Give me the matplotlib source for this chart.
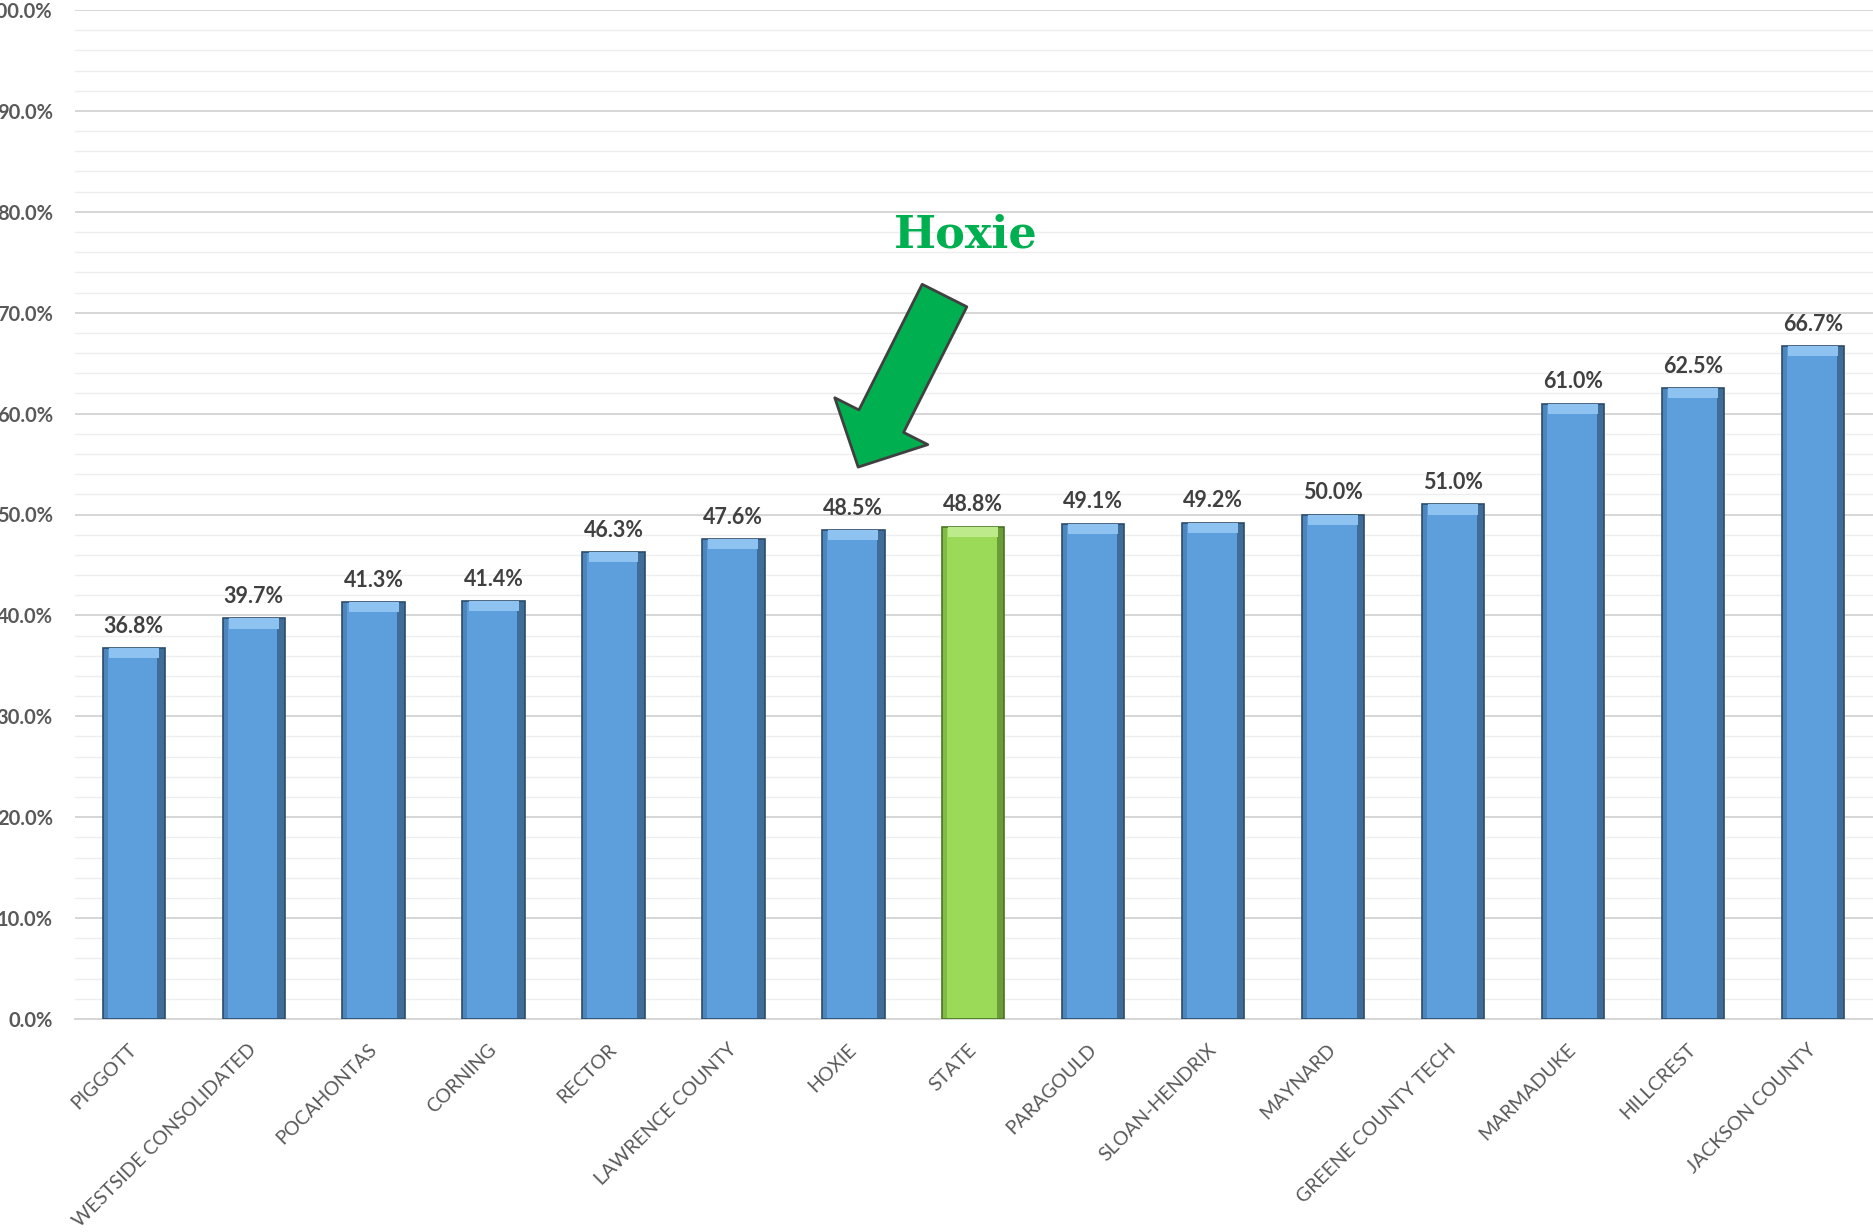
import numpy as np
import matplotlib.pyplot as plt
from matplotlib.ticker import MultipleLocator, FuncFormatter

plt.rcParams['font.family'] = ['Lato', 'DejaVu Sans']

# Data (percent)
schools = ["PIGGOTT", "WESTSIDE CONSOLIDATED", "POCAHONTAS", "CORNING", "RECTOR",
           "LAWRENCE COUNTY", "HOXIE", "STATE", "PARAGOULD", "SLOAN-HENDRIX",
           "MAYNARD", "GREENE COUNTY TECH", "MARMADUKE", "HILLCREST", "JACKSON COUNTY"]
rates = [36.8, 39.7, 41.3, 41.4, 46.3, 47.6, 48.5, 48.8, 49.1, 49.2, 50.0, 51.0, 61.0, 62.5, 66.7]
highlight = "STATE"
pointer = "HOXIE"

fig = plt.figure(figsize=(18.74, 12.32), dpi=100)
ax = fig.add_axes([75 / 1874, 1 - 1019 / 1232, 1799 / 1874, 1009 / 1232])

x = np.arange(len(schools))
w = 0.52
face = ['#9BDA58' if s == highlight else '#5D9FDD' for s in schools]
dark = ['#4A7524' if s == highlight else '#2C4C6B' for s in schools]
light = ['#BDEB8C' if s == highlight else '#8EC2F0' for s in schools]

# bars with a simple bevel look
ax.bar(x, rates, width=w, color=face, edgecolor=dark, linewidth=1.2, zorder=3)
ax.bar(x + w * 0.44, rates, width=w * 0.12, color=dark, alpha=0.6, linewidth=0, zorder=4)
ax.bar(x - w * 0.46, rates, width=w * 0.08, color=dark, alpha=0.3, linewidth=0, zorder=4)
ax.bar(x, 1.0, bottom=np.array(rates) - 1.0, width=w * 0.8, color=light, linewidth=0, zorder=5)

for xi, v in zip(x, rates):
    ax.annotate(f"{v:.1f}%", (xi, v), xytext=(0, 8), textcoords='offset points',
                ha='center', va='bottom', fontsize=15.5, fontweight='bold', color='#404040')

# axes styling
ax.set_xlim(-0.49, 14.51)
ax.set_ylim(0, 100)
ax.yaxis.set_major_locator(MultipleLocator(10))
ax.yaxis.set_minor_locator(MultipleLocator(2))
ax.yaxis.set_major_formatter(FuncFormatter(lambda v, p: f"{v:.1f}%"))
ax.grid(which='major', axis='y', color='#D6D6D6', linewidth=1.4, zorder=0)
ax.grid(which='minor', axis='y', color='#EEEEEE', linewidth=1.0, zorder=0)
for side in ['top', 'right', 'left']:
    ax.spines[side].set_visible(False)
ax.spines['bottom'].set_color('#D6D6D6')
ax.spines['bottom'].set_linewidth(1.4)
ax.tick_params(axis='y', which='both', length=0, pad=16, labelsize=14.5,
               labelcolor='#595959')
for lab in ax.get_yticklabels():
    lab.set_fontweight('bold')

ax.set_xticks(x)
ax.set_xticklabels(schools, rotation=45, ha='right', va='center',
                   rotation_mode='anchor', fontsize=14, color='#595959')
ax.tick_params(axis='x', length=0, pad=20)

# Hoxie call-out
hx = schools.index(pointer)
ax.text(hx + 0.94, 77.7, "Hoxie", fontfamily='DejaVu Serif', fontweight='bold',
        fontsize=32, color='#00B050', ha='center', va='center')
ax.annotate("", xy=(hx + 0.04, rates[hx] + 6.2), xytext=(hx + 0.76, rates[hx] + 23.2),
            arrowprops=dict(arrowstyle="simple,head_length=37,head_width=75,tail_width=36",
                            mutation_scale=1, fc='#00B050', ec='#404040', lw=2,
                            shrinkA=0, shrinkB=0), zorder=6)

fig.savefig("out.png", dpi=100)
